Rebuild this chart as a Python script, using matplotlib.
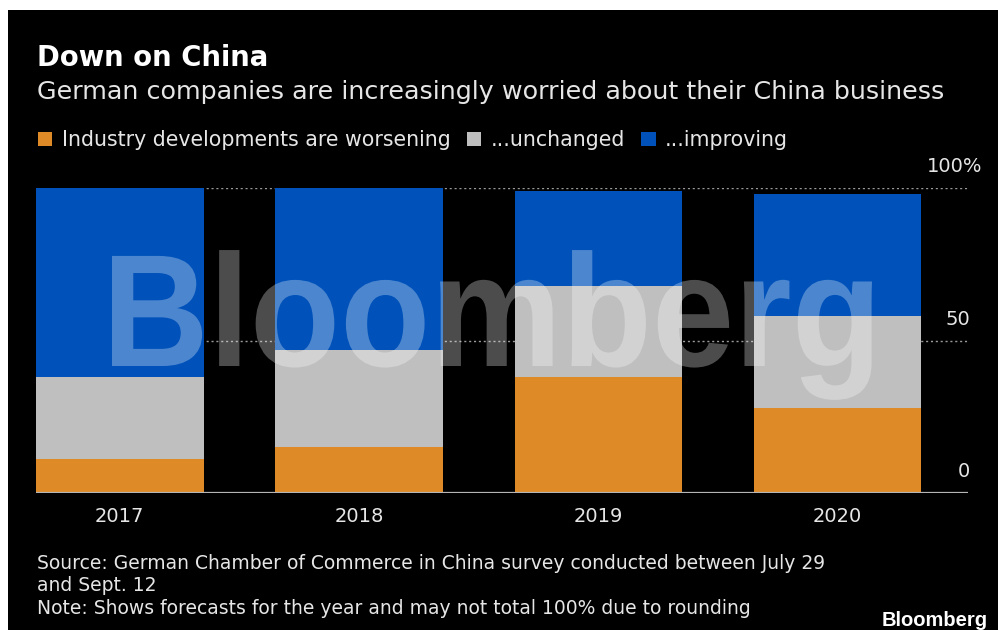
"""
Down on China -- Bloomberg-style stacked bar chart of German companies'
outlook on their China business (German Chamber of Commerce survey).
"""

import matplotlib
matplotlib.use("Agg")
import matplotlib.pyplot as plt
from matplotlib.patches import Rectangle, PathPatch
from matplotlib.textpath import TextPath
from matplotlib.font_manager import FontProperties
from matplotlib.transforms import Affine2D, blended_transform_factory

plt.rcParams["font.family"] = ["DejaVu Sans"]

# ------------- Data -----------------------------------------------------

YEARS = ["2017", "2018", "2019", "2020"]
WORSENING = [11, 15, 38, 28]
UNCHANGED = [27, 32, 30, 30]
IMPROVING = [62, 53, 31, 40]

SERIES_LABELS = ["Industry developments are worsening",
                 "...unchanged", "...improving"]
SERIES_COLORS = ["#DE8A26", "#BFBFBF", "#0052BA"]

Y_TICKS = [0, 50, 100]
Y_TICK_LABELS = ["0", "50", "100%"]

TITLE = "Down on China"
SUBTITLE = "German companies are increasingly worried about their China business"
FOOTER = ("Source: German Chamber of Commerce in China survey conducted between July 29\n"
          "and Sept. 12\n"
          "Note: Shows forecasts for the year and may not total 100% due to rounding")

BG = "black"
TEXT = "#E6E6E6"

W_PX, H_PX, DPI = 998, 630, 100


def px(x, y):
    """pixel (from top-left) -> figure fraction"""
    return x / W_PX, 1 - y / H_PX


def main():
    fig = plt.figure(figsize=(W_PX / DPI, H_PX / DPI), dpi=DPI)
    fig.patch.set_facecolor("white")
    fig.patches.append(Rectangle((8 / W_PX, 0), 1, 1 - 10 / H_PX,
                                 transform=fig.transFigure,
                                 facecolor=BG, edgecolor="none", zorder=-10))

    # axes: baseline at y=493px, 100% at y=188px, x from 36 to 968px
    left, right = 36, 968
    top, bottom = 188, 493
    ax = fig.add_axes([left / W_PX, 1 - bottom / H_PX,
                       (right - left) / W_PX, (bottom - top) / H_PX])
    ax.set_facecolor("none")

    x = list(range(len(YEARS)))
    width = 0.70
    bottoms = [0] * len(YEARS)
    for vals, lab, col in zip([WORSENING, UNCHANGED, IMPROVING],
                              SERIES_LABELS, SERIES_COLORS):
        ax.bar(x, vals, width=width, bottom=bottoms, color=col,
               label=lab, zorder=2, linewidth=0)
        bottoms = [b + v for b, v in zip(bottoms, vals)]

    ax.set_xlim(-width / 2, -width / 2 + (right - left) / 239.3)
    ax.set_ylim(0, 100)

    for s in ax.spines.values():
        s.set_visible(False)
    ax.axhline(0, color="#B5B5B5", linewidth=1.6, zorder=3)
    for t in Y_TICKS[1:]:
        ax.axhline(t, color="#9A9A9A", linewidth=1.0,
                   linestyle=(0, (1.5, 2.0)), zorder=1)

    ax.set_yticks([])
    ax.set_xticks(x)
    ax.set_xticklabels(YEARS, color=TEXT, fontsize=14)
    ax.tick_params(axis="x", length=0, pad=10)

    # right-hand value labels, sitting above each gridline
    trans = blended_transform_factory(fig.transFigure, ax.transData)
    for t, lab in zip(Y_TICKS, Y_TICK_LABELS):
        xr = 982 if lab.endswith("%") else 970
        ax.text(xr / W_PX, t + 7, lab, transform=trans, ha="right",
                va="center", color=TEXT, fontsize=14)

    # legend
    leg = fig.legend(*ax.get_legend_handles_labels(), loc="center left",
                     bbox_to_anchor=px(38, 140), ncol=3, frameon=False,
                     fontsize=14.8, handlelength=0.7, handleheight=0.7,
                     handletextpad=0.45, columnspacing=0.8,
                     borderaxespad=0, borderpad=0)
    for t in leg.get_texts():
        t.set_color(TEXT)

    # titles
    fig.text(*px(37, 58), TITLE, fontsize=19.8, fontweight="bold",
             color="white", va="center", ha="left")
    fig.text(*px(37, 92), SUBTITLE, fontsize=18.3, color=TEXT,
             va="center", ha="left")

    # footer
    fig.text(*px(37, 554), FOOTER, fontsize=13.5, color=TEXT, va="top",
             ha="left", linespacing=1.22)
    fig.text(*px(988, 626), "Bloomberg", fontsize=14.5, color="white",
             fontweight="bold", family="Liberation Sans", ha="right",
             va="baseline")

    # big translucent watermark across the bars
    fp = FontProperties(family="Liberation Sans", weight="bold")
    tp = TextPath((0, 0), "Bloomberg", size=1.6, prop=fp)
    bb = tp.get_extents()
    sx = (760 / DPI) / bb.width
    x0 = 112 / DPI - bb.x0 * sx
    y0 = (H_PX - 366) / DPI
    wm = PathPatch(tp, facecolor="white", edgecolor="none", alpha=0.3,
                   transform=Affine2D().scale(sx, 1.0).translate(x0, y0)
                   + fig.dpi_scale_trans, zorder=5)
    fig.patches.append(wm)

    fig.savefig("out.png", dpi=DPI, facecolor=fig.get_facecolor())
    plt.close(fig)


if __name__ == "__main__":
    main()
